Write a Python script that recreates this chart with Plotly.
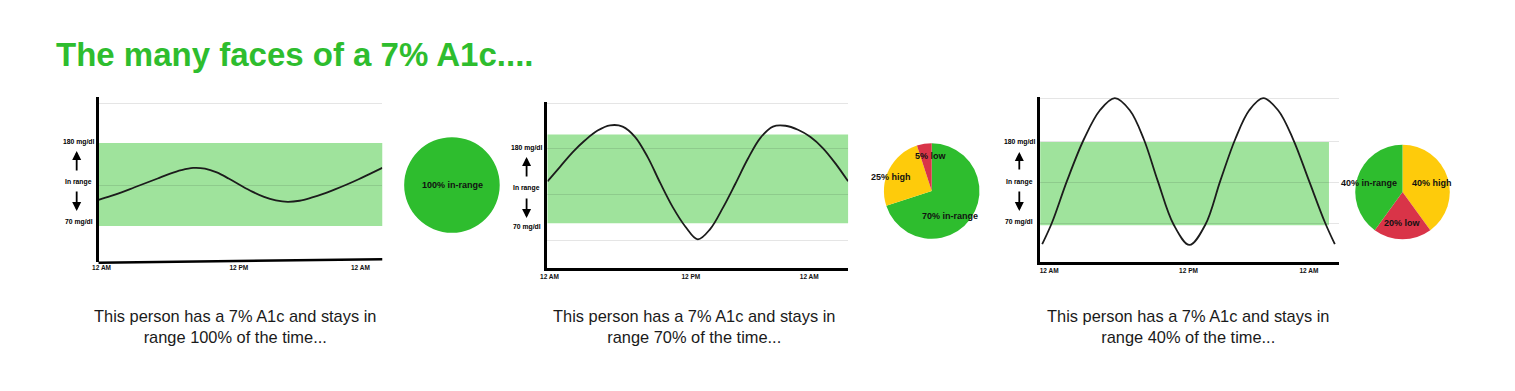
import plotly.graph_objects as go

W, H = 1515, 391

# ---------------- data ----------------
title_text = "The many faces of a 7% A1c...."

hours1 = list(range(0, 25))
glucose1 = [104.5, 109.5, 115, 121, 127, 133, 139, 144, 147, 146, 141, 133, 124,
            115.5, 108.5, 104, 102, 103.5, 107.5, 112.5, 118.5, 125, 132, 139.5, 147]

hours2 = list(range(0, 25))
glucose2 = [122, 140, 158, 173, 185, 191.5, 190, 177, 152, 120, 90, 66, 50,
            63, 89, 119, 150, 176, 190, 191, 186, 177, 163, 144, 122]

hours3 = [0.16, 0.96, 2.16, 3.52, 4.8, 6.0, 7.2, 8.32, 9.44, 10.72, 12.0, 13.28, 14.48,
          15.68, 16.8, 17.92, 19.12, 20.32, 21.6, 22.88, 23.68]
glucose3 = [45, 74, 129, 184, 222, 238, 222, 184, 129, 71, 44, 71, 129, 184, 222, 238,
            222, 184, 129, 74, 45]

range_low, range_high = 70, 180

y_labels = ["180 mg/dl", "In range", "70 mg/dl"]
x_tick_text = ["12 AM", "12 PM", "12 AM"]
x_tick_vals = [[0.25, 11.87, 22.15], [0.16, 11.44, 20.9], [0.72, 11.92, 21.6]]
grid_vals = [[124, 233], [49, 106, 163, 219], [73, 126, 181, 237.5]]
y_ranges = [[22.3, 241], [14.4, 220.5], [21.5, 239.5]]

pie_labels = [["in-range"], ["in-range", "high", "low"], ["high", "low", "in-range"]]
pie_values = [[100], [70, 25, 5], [40, 20, 40]]

captions = [
    "This person has a 7% A1c and stays in<br>range 100% of the time...",
    "This person has a 7% A1c and stays in<br>range 70% of the time...",
    "This person has a 7% A1c and stays in<br>range 40% of the time...",
]

# ---------------- style ----------------
GREEN = "#2EBD2E"
BAND = "#9FE39C"
YELLOW = "#FECB0B"
RED = "#D93448"
LINE = "#1c1c1c"
GRID = "rgba(0,0,0,0.10)"
FONT = "Liberation Sans"
slice_colors = {"in-range": GREEN, "high": YELLOW, "low": RED}


def fx(p):
    return p / W


def fy(p):
    return 1 - p / H


# pixel boxes for the three line panels: (left, right, top, bottom)
boxes = [(92, 377, 97, 262), (543, 845, 102, 268), (1038, 1338, 97, 262)]
pie_boxes = [(399, 495, 137, 233), (881, 977, 143, 239), (1354.5, 1449.5, 144.5, 239.5)]

fig = go.Figure()
layout = dict(
    width=W, height=H, margin=dict(l=0, r=0, t=0, b=0),
    paper_bgcolor="white", plot_bgcolor="white", showlegend=False,
)

series = [(hours1, glucose1), (hours2, glucose2), (hours3, glucose3)]
shapes = []
annotations = []
for i, ((hx, gy), box) in enumerate(zip(series, boxes)):
    n = "" if i == 0 else str(i + 1)
    l, r, t, b = box
    fig.add_trace(go.Scatter(
        x=hx, y=gy, mode="lines", line=dict(color=LINE, width=1.8, shape="spline"),
        xaxis="x" + n, yaxis="y" + n, hoverinfo="skip",
    ))
    layout["xaxis" + n] = dict(
        domain=[fx(l), fx(r)], anchor="y" + n, range=[0, 24],
        showline=(i != 0), linecolor="black", linewidth=2.5,
        showgrid=False, zeroline=False, ticks="",
        tickvals=x_tick_vals[i], ticktext=x_tick_text,
        tickfont=dict(family=FONT, size=6.5, color="#111", weight="bold"),
    )
    layout["yaxis" + n] = dict(
        domain=[fy(b), fy(t)], anchor="x" + n, range=y_ranges[i],
        showline=True, linecolor="black", linewidth=2.5,
        showgrid=True, gridcolor=GRID, gridwidth=1, zeroline=False,
        tickvals=grid_vals[i], showticklabels=False, ticks="",
    )
    band_x1 = 0.967 if i == 2 else 1
    shapes.append(dict(
        type="rect", xref="x%s domain" % n, yref="y" + n,
        x0=0, x1=band_x1, y0=range_low, y1=range_high,
        fillcolor=BAND, line=dict(width=0), layer="below",
    ))

# slightly slanted baseline of the first panel
shapes.append(dict(type="line", xref="x domain", yref="y domain", x0=0, y0=-0.004,
                   x1=1, y1=0.016, line=dict(color="black", width=2.5)))

# y-side labels and arrows (pixel positions)
label_pos = [
    (72, [142, 182, 222], (151, 172), (211, 190)),
    (522, [148, 188, 227], (157, 178), (218, 197)),
    (1017, [142, 182, 222], (152, 171), (211, 190)),
]
for cx, ys, up, down in label_pos:
    for txt, yy in zip(y_labels, ys):
        annotations.append(dict(
            x=fx(cx), y=fy(yy), xref="paper", yref="paper", text=txt, showarrow=False,
            xanchor="center", yanchor="middle",
            font=dict(family=FONT, size=6.8, color="#000", weight="bold"),
        ))
    ax_x = cx - 2 if cx == 72 else cx
    annotations.append(dict(x=fx(ax_x), y=fy(up[0]), xref="paper", yref="paper", text="",
                            showarrow=True, ax=0, ay=up[1] - up[0], arrowhead=2,
                            arrowsize=1, arrowwidth=1.8, arrowcolor="black"))
    annotations.append(dict(x=fx(ax_x), y=fy(down[0]), xref="paper", yref="paper", text="",
                            showarrow=True, ax=0, ay=down[1] - down[0], arrowhead=2,
                            arrowsize=1, arrowwidth=1.8, arrowcolor="black"))

# pies
for labs, vals, pb in zip(pie_labels, pie_values, pie_boxes):
    l, r, t, b = pb
    fig.add_trace(go.Pie(
        labels=labs, values=vals, sort=False, direction="clockwise", rotation=0,
        marker=dict(colors=[slice_colors[k] for k in labs], line=dict(width=0)),
        textinfo="none", hoverinfo="skip",
        domain=dict(x=[fx(l), fx(r)], y=[fy(b), fy(t)]),
    ))

pie_text = [
    ("100% in-range", 448, 185),
    ("5% low", 928, 156), ("25% high", 888, 177), ("70% in-range", 947, 216),
    ("40% in-range", 1368, 183), ("40% high", 1432, 183), ("20% low", 1402, 223),
]
for txt, px, py in pie_text:
    annotations.append(dict(
        x=fx(px), y=fy(py), xref="paper", yref="paper", text=txt, showarrow=False,
        xanchor="center", yanchor="middle",
        font=dict(family=FONT, size=9, color="#111", weight="bold"),
    ))

# captions
for cap, cx in zip(captions, [229, 690, 1186]):
    annotations.append(dict(
        x=fx(cx), y=fy(326), xref="paper", yref="paper", text=cap, showarrow=False,
        xanchor="center", yanchor="middle", align="center",
        font=dict(family=FONT, size=16.4, color="#1a1a1a"),
    ))

# title
annotations.append(dict(
    x=fx(47), y=fy(55), xref="paper", yref="paper", text=title_text, showarrow=False,
    xanchor="left", yanchor="middle",
    font=dict(family=FONT, size=33, color=GREEN, weight="bold"),
))

layout["shapes"] = shapes
layout["annotations"] = annotations
fig.update_layout(**layout)
fig.write_html("out.html")
